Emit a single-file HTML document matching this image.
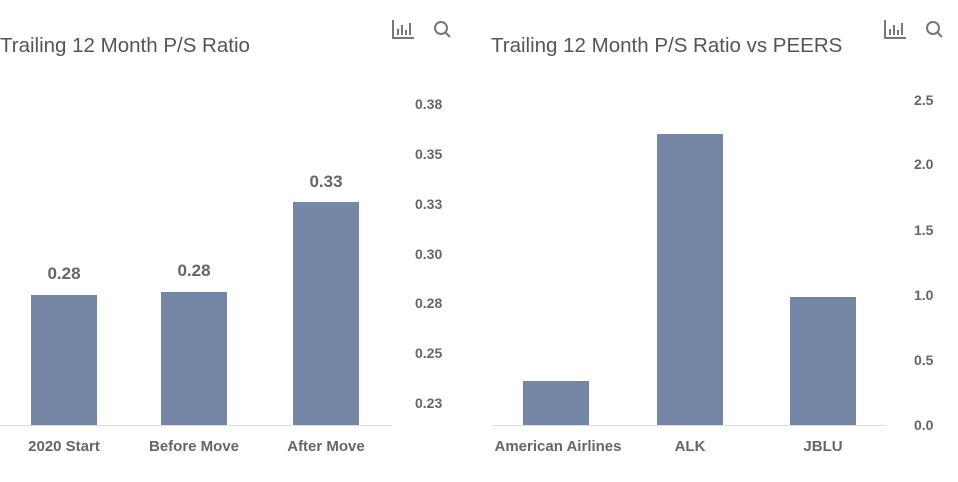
<!DOCTYPE html>
<html><head><style>
body{margin:0;width:958px;height:482px;background:#fff;font-family:"Liberation Sans",sans-serif;position:relative;overflow:hidden}
.a{position:absolute;white-space:nowrap}
.t{font-size:20.5px;color:#555}
.k{font-size:14px;color:#666;font-weight:bold}
.bar{position:absolute;background:#7687a5}
.line{position:absolute;height:1px;background:#ddd;top:425px}
.v{font-size:17px;font-weight:bold;color:#666;text-align:center;width:66px}
.x{font-size:15px;font-weight:bold;color:#666;text-align:center;width:160px}
</style></head><body>
<div class="a t" style="left:0;top:34px">Trailing 12 Month P/S Ratio</div>
<div class="a t" style="left:491px;top:34px">Trailing 12 Month P/S Ratio vs PEERS</div>
<svg class="a" style="left:392px;top:18px" width="70" height="24"><g fill="none" stroke="#777" stroke-width="2"><path d="M1 2V20H22"/><path d="M6 17V11M10 17V7M14 17V12M18 17V5"/><circle cx="49" cy="10" r="6"/><path d="M53 14L58 19"/></g></svg>
<svg class="a" style="left:884px;top:18px" width="70" height="24"><g fill="none" stroke="#777" stroke-width="2"><path d="M1 2V20H22"/><path d="M6 17V11M10 17V7M14 17V12M18 17V5"/><circle cx="49" cy="10" r="6"/><path d="M53 14L58 19"/></g></svg>
<div class="line" style="left:0;width:392px"></div>
<div class="line" style="left:492px;width:394px"></div>
<div class="bar" style="left:31px;width:66px;top:295px;height:130px"></div>
<div class="bar" style="left:161px;width:66px;top:292px;height:133px"></div>
<div class="bar" style="left:293px;width:66px;top:202px;height:223px"></div>
<div class="a v" style="left:31px;top:264px">0.28</div>
<div class="a v" style="left:161px;top:261px">0.28</div>
<div class="a v" style="left:293px;top:172px">0.33</div>
<div class="a x" style="left:-16px;top:438px">2020 Start</div>
<div class="a x" style="left:114px;top:438px">Before Move</div>
<div class="a x" style="left:246px;top:438px">After Move</div>
<div class="a k" style="left:415px;top:96px">0.38</div>
<div class="a k" style="left:415px;top:146px">0.35</div>
<div class="a k" style="left:415px;top:196px">0.33</div>
<div class="a k" style="left:415px;top:246px">0.30</div>
<div class="a k" style="left:415px;top:295px">0.28</div>
<div class="a k" style="left:415px;top:345px">0.25</div>
<div class="a k" style="left:415px;top:395px">0.23</div>
<div class="bar" style="left:523px;width:66px;top:381px;height:44px"></div>
<div class="bar" style="left:657px;width:66px;top:134px;height:291px"></div>
<div class="bar" style="left:790px;width:66px;top:297px;height:128px"></div>
<div class="a x" style="left:478px;top:438px">American Airlines</div>
<div class="a x" style="left:610px;top:438px">ALK</div>
<div class="a x" style="left:743px;top:438px">JBLU</div>
<div class="a k" style="left:914px;top:92px">2.5</div>
<div class="a k" style="left:914px;top:156px">2.0</div>
<div class="a k" style="left:914px;top:222px">1.5</div>
<div class="a k" style="left:914px;top:287px">1.0</div>
<div class="a k" style="left:914px;top:352px">0.5</div>
<div class="a k" style="left:914px;top:417px">0.0</div>
</body></html>
